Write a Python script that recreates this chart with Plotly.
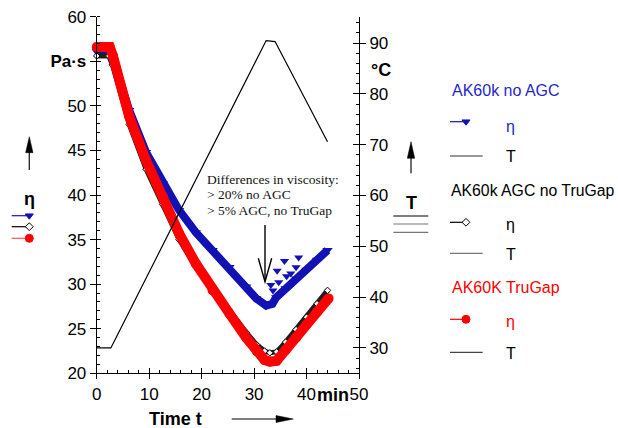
import plotly.graph_objects as go

# ---------------- data ----------------
red_t = [0, 2.5, 3.1, 6.2, 9.4, 12.6, 15.7, 18.9, 22.1, 25.3, 28.5, 30.5, 32.0, 33.0, 34.3, 36.0, 38.0, 40.0, 42.0, 44.2]
red_eta = [56.6, 56.6, 55.6, 48.8, 43.9, 39.8, 35.7, 32.3, 29.3, 26.7, 24.0, 22.5, 21.5, 21.3, 21.4, 22.6, 24.0, 25.5, 26.9, 28.4]

blue_t = [0, 2.3, 3.0, 6.2, 9.4, 12.6, 15.7, 18.9, 22.1, 25.3, 28.5, 30.4, 32.3, 33.5, 34.2, 36.0, 38.0, 40.0, 42.0, 44.0]
blue_eta = [56.1, 56.1, 55.6, 49.5, 44.8, 41.3, 38.3, 35.8, 33.8, 31.9, 29.7, 28.4, 27.6, 27.8, 28.5, 29.5, 30.6, 31.6, 32.7, 33.8]

black_t = [0, 2.3, 3.0, 6.2, 9.4, 12.6, 15.7, 18.9, 22.1, 25.3, 28.5, 30.5, 32.0, 33.0, 34.3, 36.0, 38.0, 40.0, 42.0, 44.0]
black_eta = [55.6, 55.6, 54.6, 47.9, 42.9, 38.9, 35.0, 32.0, 29.5, 27.1, 24.6, 23.2, 22.5, 22.3, 22.4, 23.5, 24.9, 26.3, 27.8, 29.3]

outlier_t = [33.2, 33.6, 34.4, 34.7, 35.8, 36.2, 38.0, 38.5, 37.0]
outlier_eta = [29.9, 29.3, 31.5, 30.2, 32.6, 30.9, 31.9, 33.0, 31.2]

temp_t = [0, 2.7, 32.3, 34.0, 44.0]
temp_c = [30.0, 30.0, 90.5, 90.3, 70.6]

legend_groups = ["AK60k no AGC", "AK60k AGC no TruGap", "AK60K TruGap"]
note_lines = ["Differences in viscosity:", "> 20% no AGC", "> 5% AGC, no TruGap"]

# ---------------- styling ----------------
W, H = 618, 428
X0, X1 = 96.7, 359.0       # plot area left/right (px)
YT, YB = 16.7, 373.3       # plot area top/bottom (px)
xdom = [X0 / W, X1 / W]
ydom = [1 - YB / H, 1 - YT / H]

SANS = "Liberation Sans, Arial, Helvetica, sans-serif"
SERIF = "Liberation Serif, Times New Roman, serif"
BLUE = "#1212b4"
BLUE_TXT = "#2626cc"
RED = "#ff0000"
BLK = "#000000"

fig = go.Figure()

# viscosity bands
fig.add_trace(go.Scatter(x=blue_t, y=blue_eta, mode="lines+markers", cliponaxis=False,
                         line=dict(color=BLUE, width=8),
                         marker=dict(symbol="triangle-down", size=9, color=BLUE),
                         xaxis="x", yaxis="y", hoverinfo="skip"))
fig.add_trace(go.Scatter(x=black_t, y=black_eta, mode="lines+markers", cliponaxis=False,
                         line=dict(color="#1e1e1e", width=5),
                         marker=dict(symbol="diamond", size=5, color="white",
                                     line=dict(color="black", width=1)),
                         xaxis="x", yaxis="y", hoverinfo="skip"))
fig.add_trace(go.Scatter(x=red_t, y=red_eta, mode="lines+markers", cliponaxis=False,
                         line=dict(color=RED, width=10),
                         marker=dict(symbol="circle", size=10, color=RED),
                         xaxis="x", yaxis="y", hoverinfo="skip"))
fig.add_trace(go.Scatter(x=outlier_t, y=outlier_eta, mode="markers",
                         marker=dict(symbol="triangle-down", size=8, color=BLUE),
                         xaxis="x", yaxis="y", hoverinfo="skip"))
# temperature
fig.add_trace(go.Scatter(x=temp_t, y=temp_c, mode="lines",
                         line=dict(color=BLK, width=1.2),
                         xaxis="x", yaxis="y2", hoverinfo="skip"))

# empty traces to make the tick-overlay axes render
for xa, ya in [("x2", "y"), ("x", "y3"), ("x", "y4")]:
    fig.add_trace(go.Scatter(x=[], y=[], xaxis=xa, yaxis=ya, showlegend=False))

# ---- pixel canvas helpers (legend glyphs) ----
def glyph_line(x0, x1, y, color, width=1.2):
    fig.add_trace(go.Scatter(x=[x0, x1], y=[y, y], mode="lines",
                             line=dict(color=color, width=width),
                             xaxis="x5", yaxis="y5", hoverinfo="skip"))

def glyph_marker(x, y, symbol, size, color, lcolor=None):
    fig.add_trace(go.Scatter(x=[x], y=[y], mode="markers",
                             marker=dict(symbol=symbol, size=size, color=color,
                                         line=dict(color=lcolor or color, width=1)),
                             xaxis="x5", yaxis="y5", hoverinfo="skip"))

# left-hand eta key
glyph_line(11.7, 29.3, 215.7, BLUE)
glyph_marker(29.3, 215.7, "triangle-down", 7, BLUE)
glyph_line(11.7, 29.3, 226.7, BLK)
glyph_marker(29.3, 226.7, "diamond", 6, "white", BLK)
glyph_line(11.7, 29.3, 238.3, "#ff5050")
glyph_marker(29.3, 238.3, "circle", 8, RED)

# right legend glyphs
glyph_line(450, 466, 121.7, BLUE)
glyph_marker(466, 121.7, "triangle-down", 7, BLUE)
glyph_line(450, 482.7, 156, "#333333")
glyph_line(450, 466, 222.3, BLK)
glyph_marker(466, 222.3, "diamond", 6, "white", BLK)
glyph_line(450, 482.7, 253.3, "#777777")
glyph_line(450, 466, 319.3, RED)
glyph_marker(466, 319.3, "circle", 8, RED)
glyph_line(450, 482.7, 352.3, "#444444")

# ---------------- axes ----------------
tickfont = dict(family=SANS, size=17, color=BLK)
common = dict(showgrid=False, zeroline=False, fixedrange=True, tickcolor=BLK, tickwidth=1,
              automargin=False)

layout = dict(
    template="none",
    width=W, height=H, margin=dict(l=0, r=0, t=0, b=0, pad=0, autoexpand=False),
    paper_bgcolor="white", plot_bgcolor="rgba(0,0,0,0)", showlegend=False,
    font=dict(family=SANS, color=BLK),
    xaxis=dict(domain=xdom, range=[0, 50], anchor="y", showline=True, linecolor=BLK, linewidth=1,
               ticks="outside", ticklen=5, tick0=0, dtick=10, tickfont=tickfont,
               minor=dict(dtick=2, ticks="inside", ticklen=3, tickcolor=BLK, showgrid=False), **common),
    xaxis2=dict(domain=xdom, range=[0, 50], overlaying="x", anchor="y", showline=False,
                ticks="inside", ticklen=5, tick0=0, dtick=10, showticklabels=False, **common),
    yaxis=dict(domain=ydom, range=[20, 60], anchor="x", showline=True, linecolor=BLK, linewidth=1,
               ticks="outside", ticklen=6, tick0=0, dtick=5, tickfont=tickfont,
               labelalias={"55": "<b>Pa·s</b>"},
               minor=dict(dtick=1, ticks="inside", ticklen=3, tickcolor=BLK, showgrid=False), **common),
    yaxis2=dict(domain=ydom, range=[25, 95.2], overlaying="y", side="right", anchor="x",
                showline=True, linecolor=BLK, linewidth=1,
                ticks="outside", ticklen=6, tick0=0, dtick=10, tickfont=tickfont,
                minor=dict(dtick=2, ticks="inside", ticklen=3, tickcolor=BLK, showgrid=False), **common),
    yaxis3=dict(domain=ydom, range=[20, 60], overlaying="y", side="left", anchor="x",
                showline=False, ticks="inside", ticklen=4, tick0=0, dtick=5,
                showticklabels=False, **common),
    yaxis4=dict(domain=ydom, range=[25, 95.2], overlaying="y", side="right", anchor="x",
                showline=False, ticks="inside", ticklen=6, tick0=0, dtick=10,
                showticklabels=False, **common),
    xaxis5=dict(domain=[0, 1], range=[0, W], anchor="y5", visible=False, fixedrange=True, automargin=False),
    yaxis5=dict(domain=[0, 1], range=[H, 0], anchor="x5", visible=False, fixedrange=True, automargin=False),
)
fig.update_layout(**layout)

# ---------------- text ----------------
def txt(x, y, text, size=16, color=BLK, bold=False, xanchor="left", family=SANS):
    fig.add_annotation(x=x, y=y, xref="x5", yref="y5", text=("<b>%s</b>" % text) if bold else text,
                       showarrow=False, xanchor=xanchor, yanchor="middle",
                       font=dict(family=family, size=size, color=color))

txt(450, 90.7, legend_groups[0], color=BLUE_TXT)
txt(504, 126, "η", color=BLUE_TXT)
txt(504, 156.7, "T")
txt(449, 190, legend_groups[1], size=15.8)
txt(504, 224, "η")
txt(504, 254, "T")
txt(450, 287.7, legend_groups[2], color=RED)
txt(504, 321, "η", color=RED)
txt(504, 353, "T")

txt(29.3, 199.3, "η", size=18, bold=True, xanchor="center")
txt(411, 202.7, "T", size=18, bold=True, xanchor="center")
txt(369.3, 70, "°C", size=18, bold=True)
txt(332.5, 395, "min", size=18, bold=True, xanchor="center")
txt(175, 419, "Time t", size=18, bold=True, xanchor="center")

for i, line in enumerate(note_lines):
    txt(205, 179 + i * 15.5, line, size=13.5, family=SERIF, color="#111111")

# ---------------- shapes (arrows, T key) ----------------
def seg(x0, y0, x1, y1, color=BLK, width=1.2):
    fig.add_shape(type="line", xref="x5", yref="y5", x0=x0, y0=y0, x1=x1, y1=y1,
                  line=dict(color=color, width=width))

def tri(path):
    fig.add_shape(type="path", xref="x5", yref="y5", path=path, fillcolor=BLK,
                  line=dict(color=BLK, width=0.5))

# eta up arrow (left)
seg(29.3, 170, 29.3, 150, "#222222", 1.3)
tri("M 29.3 136.7 L 25.6 152.7 L 33.0 152.7 Z")
# T up arrow (right)
seg(411, 173.3, 411, 156, "#222222", 1.3)
tri("M 411 141.7 L 407.3 158.3 L 414.7 158.3 Z")
# T key lines
seg(393.3, 216, 428.3, 216, BLK, 1.2)
seg(393.3, 224, 428.3, 224, "#777777", 1.2)
seg(393.3, 232.3, 428.3, 232.3, "#777777", 1.2)
# time arrow
seg(231.7, 419, 280, 419, BLK, 1.2)
tri("M 293.3 419 L 276 415.5 L 276 422.5 Z")
# note arrow
seg(265, 225, 265, 281.7, BLK, 1.4)
fig.add_shape(type="path", xref="x5", yref="y5", path="M 258.3 258.3 L 265 281.7 L 271.7 258.3",
              line=dict(color=BLK, width=1.4))

fig.write_html("out.html")
